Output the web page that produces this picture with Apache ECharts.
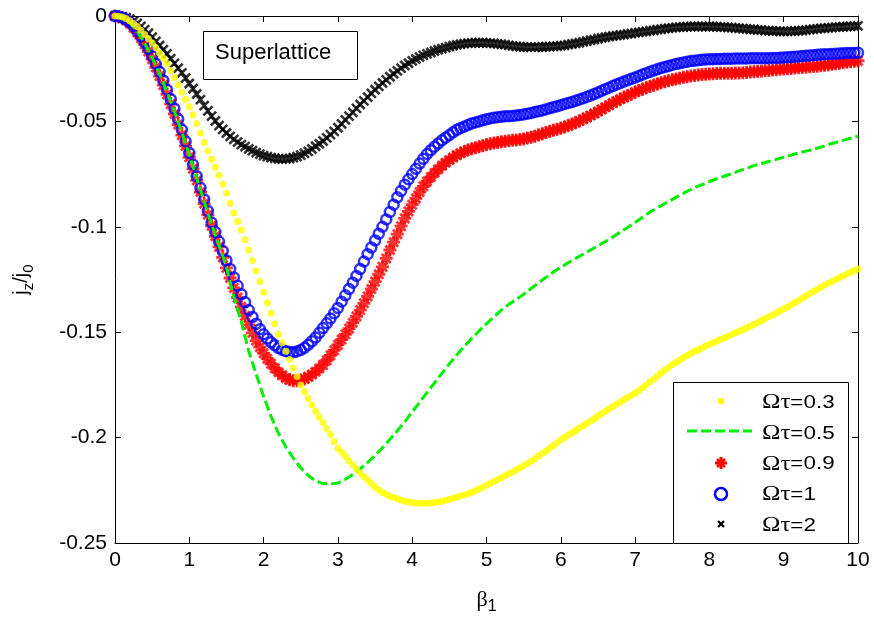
<!DOCTYPE html>
<html>
<head>
<meta charset="utf-8">
<script src="https://cdn.jsdelivr.net/npm/echarts@6/dist/echarts.min.js"></script>
<style>html,body{margin:0;padding:0;background:#fff}#c{width:874px;height:620px}</style>
</head>
<body>
<div id="c"></div>
<script>
// beta_1 grid for the marker series (step 0.05) and the dashed line (step 0.1)
const betaFine = Array.from({length: 201}, (_, i) => +(i * 0.05).toFixed(2));
const betaCoarse = Array.from({length: 101}, (_, i) => +(i * 0.1).toFixed(1));

const seriesNames = ['Ωτ=0.3', 'Ωτ=0.5', 'Ωτ=0.9', 'Ωτ=1', 'Ωτ=2'];
const xTicks = [0, 1, 2, 3, 4, 5, 6, 7, 8, 9, 10];
const yTicks = [0, -0.05, -0.1, -0.15, -0.2, -0.25];

// Ωτ=0.3 (yellow dots), step 0.05
const jz03 = [
0,-0.0001,-0.0005,-0.0012,-0.0022,-0.0035,-0.005,-0.0068,-0.0088,-0.0108,-0.0128,-0.0151,-0.0175,-0.02,-0.0225,-0.0258,-0.0292,-0.0327,-0.0362,-0.0396,
-0.043,-0.047,-0.051,-0.0555,-0.06,-0.064,-0.068,-0.0717,-0.0755,-0.0797,-0.084,-0.0888,-0.0935,-0.0975,-0.1015,-0.1062,-0.111,-0.116,-0.121,-0.126,
-0.131,-0.136,-0.141,-0.146,-0.151,-0.155,-0.159,-0.163,-0.167,-0.171,-0.175,-0.1783,-0.1815,-0.1845,-0.1875,-0.1903,-0.193,-0.1958,-0.1985,-0.2018,
-0.205,-0.207,-0.209,-0.211,-0.213,-0.2149,-0.2168,-0.2184,-0.22,-0.2218,-0.2235,-0.2248,-0.226,-0.2269,-0.2278,-0.2284,-0.229,-0.2296,-0.2302,-0.2305,
-0.2308,-0.231,-0.2312,-0.2312,-0.2312,-0.231,-0.2308,-0.2305,-0.2302,-0.2298,-0.2293,-0.2288,-0.2282,-0.2277,-0.2272,-0.2266,-0.226,-0.2252,-0.2243,-0.2235,
-0.2226,-0.2217,-0.2208,-0.2199,-0.219,-0.2181,-0.2172,-0.2163,-0.2153,-0.2143,-0.2133,-0.2123,-0.2112,-0.21,-0.2088,-0.2076,-0.2063,-0.205,-0.2037,-0.2024,
-0.201,-0.1999,-0.1988,-0.1977,-0.1966,-0.1955,-0.1944,-0.1933,-0.1921,-0.191,-0.1898,-0.1887,-0.1875,-0.1863,-0.1852,-0.1842,-0.1831,-0.1821,-0.181,-0.18,
-0.179,-0.1777,-0.1763,-0.1749,-0.1735,-0.1722,-0.1708,-0.1694,-0.168,-0.1667,-0.1655,-0.1643,-0.1632,-0.1621,-0.161,-0.1601,-0.1592,-0.1583,-0.1575,-0.1566,
-0.1558,-0.155,-0.1542,-0.1534,-0.1527,-0.1519,-0.1511,-0.1503,-0.1496,-0.1488,-0.148,-0.1471,-0.1463,-0.1454,-0.1445,-0.1436,-0.1427,-0.1418,-0.1409,-0.14,
-0.139,-0.138,-0.137,-0.136,-0.135,-0.1339,-0.1328,-0.1317,-0.1307,-0.1297,-0.1287,-0.1277,-0.1268,-0.1259,-0.125,-0.1241,-0.1233,-0.1224,-0.1216,-0.1208,
-0.12];

// Ωτ=0.5 (green dashed line), step 0.1
const jz05 = [
0,-0.0009,-0.0032,-0.0074,-0.013,-0.0198,-0.0275,-0.036,-0.0452,-0.0552,
-0.066,-0.077,-0.088,-0.0988,-0.1088,-0.119,-0.1335,-0.145,-0.159,-0.17,
-0.1805,-0.19,-0.198,-0.2045,-0.2098,-0.2143,-0.218,-0.2205,-0.2218,-0.222,
-0.2215,-0.2198,-0.2175,-0.2148,-0.2118,-0.2085,-0.2048,-0.2008,-0.1968,-0.1925,
-0.1878,-0.1832,-0.1786,-0.174,-0.1695,-0.165,-0.1608,-0.1568,-0.153,-0.1494,
-0.146,-0.1427,-0.1395,-0.1368,-0.1345,-0.132,-0.1293,-0.1266,-0.124,-0.1215,
-0.1192,-0.117,-0.115,-0.113,-0.111,-0.109,-0.107,-0.1048,-0.1025,-0.1003,
-0.098,-0.0955,-0.093,-0.091,-0.089,-0.087,-0.085,-0.0832,-0.0815,-0.08,
-0.0785,-0.0772,-0.076,-0.0748,-0.0735,-0.0722,-0.071,-0.07,-0.069,-0.068,
-0.067,-0.066,-0.065,-0.0641,-0.0633,-0.0622,-0.061,-0.06,-0.059,-0.058,
-0.057];

// Ωτ=0.9 (red stars), step 0.05
const jz09 = [
0,-0.0003,-0.001,-0.002,-0.0035,-0.0055,-0.0078,-0.0105,-0.0135,-0.0168,-0.0205,-0.0244,-0.0285,-0.0328,-0.0372,-0.0418,-0.0465,-0.0515,-0.0565,-0.0617,
-0.067,-0.0725,-0.078,-0.0835,-0.089,-0.0943,-0.0995,-0.1045,-0.1095,-0.1145,-0.1195,-0.1243,-0.129,-0.1336,-0.138,-0.1423,-0.1465,-0.1503,-0.154,-0.1571,
-0.16,-0.1626,-0.165,-0.1671,-0.169,-0.1705,-0.1718,-0.1726,-0.173,-0.173,-0.1727,-0.1721,-0.1712,-0.1701,-0.1688,-0.1672,-0.1655,-0.1633,-0.161,-0.1586,
-0.156,-0.1535,-0.151,-0.1483,-0.1455,-0.1425,-0.1395,-0.1363,-0.133,-0.1295,-0.126,-0.1225,-0.119,-0.115,-0.111,-0.1073,-0.1035,-0.0997,-0.096,-0.0927,
-0.0895,-0.0865,-0.0835,-0.0808,-0.0785,-0.0764,-0.0745,-0.0727,-0.071,-0.0696,-0.0683,-0.0671,-0.066,-0.0651,-0.0643,-0.0636,-0.063,-0.0625,-0.062,-0.0615,
-0.061,-0.0606,-0.0603,-0.06,-0.0597,-0.0594,-0.0592,-0.059,-0.0588,-0.0586,-0.0583,-0.0579,-0.0575,-0.057,-0.0565,-0.0559,-0.0553,-0.0547,-0.0542,-0.0537,
-0.0532,-0.0526,-0.052,-0.0513,-0.0505,-0.0498,-0.049,-0.0481,-0.0472,-0.0463,-0.0453,-0.0443,-0.0433,-0.0423,-0.0413,-0.0404,-0.0395,-0.0386,-0.0378,-0.037,
-0.0362,-0.0354,-0.0347,-0.034,-0.0334,-0.0328,-0.0322,-0.0317,-0.0312,-0.0307,-0.0303,-0.0299,-0.0295,-0.0291,-0.0288,-0.0285,-0.0282,-0.028,-0.0278,-0.0276,
-0.0275,-0.0274,-0.0273,-0.0272,-0.0272,-0.0271,-0.0271,-0.027,-0.027,-0.0269,-0.0268,-0.0266,-0.0265,-0.0263,-0.0262,-0.026,-0.0258,-0.0256,-0.0255,-0.0253,
-0.0252,-0.025,-0.0249,-0.0247,-0.0246,-0.0244,-0.0243,-0.0241,-0.024,-0.0238,-0.0236,-0.0234,-0.0232,-0.0229,-0.0227,-0.0224,-0.0222,-0.0219,-0.0217,-0.0215,
-0.0213];

// Ωτ=1 (blue circles), step 0.05
const jz1 = [
0,-0.0002,-0.0008,-0.0018,-0.003,-0.0048,-0.007,-0.0096,-0.0125,-0.0156,-0.019,-0.0226,-0.0265,-0.0306,-0.035,-0.0395,-0.044,-0.049,-0.054,-0.0595,
-0.065,-0.0705,-0.076,-0.0815,-0.087,-0.0925,-0.098,-0.1025,-0.107,-0.1115,-0.116,-0.12,-0.124,-0.128,-0.132,-0.1358,-0.1395,-0.1428,-0.146,-0.1486,
-0.151,-0.153,-0.1548,-0.1562,-0.1575,-0.1584,-0.159,-0.1594,-0.1595,-0.1591,-0.1585,-0.1574,-0.156,-0.1543,-0.1525,-0.1503,-0.148,-0.1458,-0.1435,-0.141,
-0.1385,-0.1355,-0.1325,-0.1295,-0.1265,-0.1233,-0.12,-0.1165,-0.113,-0.1098,-0.1065,-0.1033,-0.1,-0.0965,-0.093,-0.0895,-0.086,-0.083,-0.08,-0.0775,
-0.075,-0.0725,-0.07,-0.0677,-0.0655,-0.0637,-0.062,-0.0605,-0.059,-0.0577,-0.0565,-0.0552,-0.054,-0.0532,-0.0525,-0.0517,-0.051,-0.0505,-0.05,-0.0495,
-0.049,-0.0486,-0.0483,-0.048,-0.0478,-0.0476,-0.0475,-0.0474,-0.0472,-0.047,-0.0467,-0.0464,-0.046,-0.0456,-0.0452,-0.0448,-0.0443,-0.0438,-0.0433,-0.0428,
-0.0423,-0.0418,-0.0413,-0.0408,-0.0402,-0.0396,-0.039,-0.0384,-0.0377,-0.037,-0.0363,-0.0355,-0.0347,-0.034,-0.0332,-0.0325,-0.0318,-0.0311,-0.0305,-0.0298,
-0.0292,-0.0285,-0.0278,-0.0271,-0.0265,-0.0259,-0.0253,-0.0247,-0.0242,-0.0237,-0.0232,-0.0228,-0.0224,-0.022,-0.0217,-0.0214,-0.0212,-0.021,-0.0208,-0.0206,
-0.0205,-0.0205,-0.0204,-0.0204,-0.0203,-0.0203,-0.0203,-0.0202,-0.0202,-0.0202,-0.0202,-0.0201,-0.0201,-0.0201,-0.0201,-0.02,-0.02,-0.0199,-0.0199,-0.0198,
-0.0197,-0.0196,-0.0195,-0.0193,-0.0192,-0.019,-0.0189,-0.0187,-0.0186,-0.0184,-0.0183,-0.0182,-0.0181,-0.018,-0.0179,-0.0178,-0.0177,-0.0176,-0.0175,-0.0175,
-0.0174];

// Ωτ=2 (black crosses), step 0.05
const jz2 = [
0,-0.0001,-0.0003,-0.0008,-0.0015,-0.0024,-0.0035,-0.0049,-0.0065,-0.0082,-0.01,-0.012,-0.014,-0.016,-0.018,-0.0202,-0.0225,-0.0247,-0.027,-0.0295,
-0.032,-0.0345,-0.037,-0.0397,-0.0425,-0.045,-0.0475,-0.0498,-0.052,-0.0538,-0.0555,-0.0571,-0.0585,-0.0598,-0.061,-0.062,-0.063,-0.0639,-0.0648,-0.0655,
-0.0662,-0.0667,-0.0672,-0.0675,-0.0678,-0.0679,-0.0678,-0.0676,-0.0672,-0.0667,-0.066,-0.0652,-0.0642,-0.0631,-0.0618,-0.0606,-0.0593,-0.0578,-0.0563,-0.0547,
-0.053,-0.0512,-0.0493,-0.0475,-0.0457,-0.0438,-0.042,-0.0403,-0.0385,-0.0367,-0.035,-0.0334,-0.0318,-0.0303,-0.0288,-0.0274,-0.026,-0.0247,-0.0235,-0.0224,
-0.0213,-0.0204,-0.0195,-0.0187,-0.018,-0.0173,-0.0166,-0.016,-0.0155,-0.015,-0.0145,-0.0141,-0.0137,-0.0134,-0.0131,-0.0129,-0.0128,-0.0127,-0.0127,-0.0127,
-0.0128,-0.0129,-0.013,-0.0132,-0.0134,-0.0136,-0.0139,-0.0142,-0.0144,-0.0146,-0.0147,-0.0148,-0.0148,-0.0148,-0.0148,-0.0147,-0.0146,-0.0145,-0.0144,-0.0143,
-0.0141,-0.0139,-0.0136,-0.0133,-0.013,-0.0127,-0.0123,-0.0119,-0.0115,-0.0112,-0.0108,-0.0104,-0.0101,-0.0098,-0.0095,-0.0093,-0.009,-0.0088,-0.0085,-0.0083,
-0.008,-0.0078,-0.0075,-0.0073,-0.007,-0.0068,-0.0065,-0.0063,-0.006,-0.0058,-0.0056,-0.0054,-0.0053,-0.0052,-0.0051,-0.005,-0.005,-0.005,-0.005,-0.005,
-0.005,-0.005,-0.0051,-0.0052,-0.0053,-0.0054,-0.0055,-0.0057,-0.0058,-0.006,-0.0061,-0.0063,-0.0064,-0.0066,-0.0067,-0.0069,-0.007,-0.0071,-0.0072,-0.0073,
-0.0073,-0.0073,-0.0072,-0.0071,-0.007,-0.0069,-0.0067,-0.0065,-0.0063,-0.0061,-0.0059,-0.0058,-0.0056,-0.0055,-0.0053,-0.0052,-0.0051,-0.005,-0.0049,-0.0048,
-0.0047];

const pairs = (xs, ys) => ys.map((y, i) => [xs[i], y]);

const SANS = 'Liberation Sans, Arial, Helvetica, sans-serif';
const SERIF = 'Liberation Serif, Times New Roman, serif';
const STAR = 'path://M0,-10L0,10M-10,0L10,0M-7,-7L7,7M-7,7L7,-7';
const CROSS = 'path://M-5,-5L5,5M-5,5L5,-5';

const chart = echarts.init(document.getElementById('c'), null, {renderer: 'canvas'});

const axisCommon = {
  type: 'value',
  axisLine: {show: true, onZero: false, lineStyle: {color: '#000', width: 1}},
  axisTick: {show: true, inside: true, length: 6, lineStyle: {color: '#000', width: 1}},
  splitLine: {show: false}
};

const legendRows = seriesNames.map((name, i) => ({
  type: 'text', x: 762, y: 392 + i * 30.8, scaleX: 1.18, scaleY: 1,
  style: {text: '{g|Ωτ}{t|' + name.slice(2) + '}', rich: {
    g: {fontFamily: SERIF, fontSize: 21, fill: '#000'},
    t: {fontFamily: SANS, fontSize: 19, fill: '#000'}}}
}));

const Z = 20;
chart.setOption({
  animation: false,
  backgroundColor: '#fff',
  grid: {left: 115, right: 16, top: 16, bottom: 68, containLabel: false},
  xAxis: [
    Object.assign({}, axisCommon, {
      min: 0, max: 10, interval: 1, position: 'bottom',
      axisLabel: {color: '#000', fontSize: 21, fontFamily: SANS, margin: 7,
        formatter: v => xTicks.includes(v) ? String(v) : ''},
      name: '{b|β}{s|1}', nameLocation: 'middle', nameGap: 42,
      nameTextStyle: {rich: {
        b: {fontFamily: SERIF, fontSize: 22, color: '#000', lineHeight: 30, verticalAlign: 'middle'},
        s: {fontFamily: SANS, fontSize: 16, color: '#000', lineHeight: 16, verticalAlign: 'bottom'}}}
    }),
    Object.assign({}, axisCommon, {min: 0, max: 10, interval: 1, position: 'top', axisLabel: {show: false}})
  ],
  yAxis: [
    Object.assign({}, axisCommon, {
      min: -0.25, max: 0, interval: 0.05, position: 'left',
      axisLabel: {color: '#000', fontSize: 21, fontFamily: SANS, margin: 8,
        formatter: v => { const t = yTicks.find(k => Math.abs(k - v) < 1e-9); return t === undefined ? '' : String(t); }},
      name: '{j|j}{s|z}{j|/j}{s|0}', nameLocation: 'middle', nameRotate: 90, nameGap: 79,
      nameTextStyle: {rich: {
        j: {fontFamily: SANS, fontSize: 20, color: '#000', lineHeight: 30, verticalAlign: 'middle'},
        s: {fontFamily: SANS, fontSize: 15, color: '#000', lineHeight: 15, verticalAlign: 'bottom'}}}
    }),
    Object.assign({}, axisCommon, {min: -0.25, max: 0, interval: 0.05, position: 'right', axisLabel: {show: false}})
  ],
  series: [
    {name: seriesNames[4], type: 'scatter', data: pairs(betaFine, jz2), symbol: CROSS, symbolSize: 9,
     itemStyle: {color: '#000', borderColor: '#000', borderWidth: 2.6}, z: 2},
    {name: seriesNames[2], type: 'scatter', data: pairs(betaFine, jz09), symbol: STAR, symbolSize: 13,
     itemStyle: {color: '#ff0000', borderColor: '#ff0000', borderWidth: 2.8}, z: 3},
    {name: seriesNames[3], type: 'scatter', data: pairs(betaFine, jz1), symbol: 'circle', symbolSize: 10,
     itemStyle: {color: 'rgba(0,0,0,0)', borderColor: '#0000ff', borderWidth: 2.5}, z: 4},
    {name: seriesNames[1], type: 'line', data: pairs(betaCoarse, jz05), showSymbol: false, symbol: 'none', smooth: false,
     lineStyle: {color: '#00ee00', width: 3, type: [10, 4]}, z: 5},
    {name: seriesNames[0], type: 'scatter', data: pairs(betaFine, jz03), symbol: 'circle', symbolSize: 7,
     itemStyle: {color: '#ffff00'}, z: 6}
  ],
  graphic: [
    {type: 'rect', left: 203, top: 31, z: 10, shape: {width: 154, height: 48},
     style: {fill: '#fff', stroke: '#000', lineWidth: 1}},
    {type: 'text', left: 215, top: 42, z: 11, style: {text: 'Superlattice', fontFamily: SANS, fontSize: 22, fill: '#000'}},
    {type: 'rect', left: 673, top: 382, z: 10, shape: {width: 175, height: 161},
     style: {fill: '#fff', stroke: '#000', lineWidth: 1}},
    {type: 'circle', z: Z, shape: {cx: 721, cy: 401, r: 3.3}, style: {fill: '#ffff00'}},
    {type: 'line', z: Z, shape: {x1: 687, y1: 431, x2: 752, y2: 431}, style: {stroke: '#00ee00', lineWidth: 3, lineDash: [10, 4]}},
    {type: 'line', z: Z, shape: {x1: 721, y1: 457, x2: 721, y2: 469}, style: {stroke: '#ff0000', lineWidth: 3}},
    {type: 'line', z: Z, shape: {x1: 715, y1: 463, x2: 727, y2: 463}, style: {stroke: '#ff0000', lineWidth: 3}},
    {type: 'line', z: Z, shape: {x1: 717, y1: 459, x2: 725, y2: 467}, style: {stroke: '#ff0000', lineWidth: 2.5}},
    {type: 'line', z: Z, shape: {x1: 717, y1: 467, x2: 725, y2: 459}, style: {stroke: '#ff0000', lineWidth: 2.5}},
    {type: 'circle', z: Z, shape: {cx: 721, cy: 494, r: 6}, style: {fill: 'none', stroke: '#0000ff', lineWidth: 2.5}},
    {type: 'line', z: Z, shape: {x1: 718, y1: 521, x2: 724, y2: 527}, style: {stroke: '#000', lineWidth: 2.2}},
    {type: 'line', z: Z, shape: {x1: 718, y1: 527, x2: 724, y2: 521}, style: {stroke: '#000', lineWidth: 2.2}}
  ].concat(legendRows.map(r => Object.assign({z: Z}, r)))
});
</script>
</body>
</html>
